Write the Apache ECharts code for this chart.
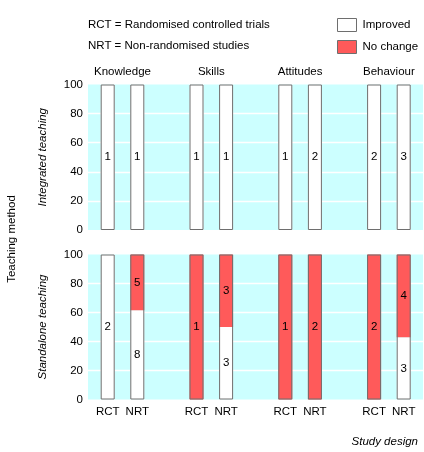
<!DOCTYPE html>
<html>
<head>
<meta charset="utf-8">
<script src="https://cdn.jsdelivr.net/npm/echarts@6/dist/echarts.min.js"></script>
<style>html,body{margin:0;padding:0;background:#fff}#c{width:424px;height:452px}</style>
</head>
<body>
<div id="c"></div>
<script>
var outcomes = ['Knowledge', 'Skills', 'Attitudes', 'Behaviour'];
var designs = ['RCT', 'NRT'];
var panels = ['Integrated teaching', 'Standalone teaching'];
// counts per bar, order: Knowledge RCT, Knowledge NRT, Skills RCT, Skills NRT, ...
var integratedImproved = [1, 1, 1, 1, 1, 2, 2, 3];
var integratedNoChange = [0, 0, 0, 0, 0, 0, 0, 0];
var standaloneImproved = [2, 8, 0, 3, 0, 0, 0, 3];
var standaloneNoChange = [0, 5, 1, 3, 1, 2, 2, 4];
var yTicks = [0, 20, 40, 60, 80, 100];

var FONT = 'Liberation Sans';
var RED = '#ff5a5a';
var CYAN = '#ccffff';

// category slots: RCT, NRT, (gap), RCT, NRT, (gap), ...
var slots = [];
outcomes.forEach(function (o, g) {
  designs.forEach(function (d) { slots.push(d); });
  if (g < outcomes.length - 1) slots.push('');
});
function slotOf(i) { return Math.floor(i / 2) * 3 + (i % 2); }
var groupX = outcomes.map(function (o, g) { return g * 3 + 0.5; });

function pctData(counts, other) {
  var arr = slots.map(function () { return 0; });
  counts.forEach(function (c, i) {
    var tot = c + other[i];
    arr[slotOf(i)] = { value: tot ? c / tot * 100 : 0, count: c };
  });
  return arr;
}
function outlineData(a, b) {
  var arr = slots.map(function () { return '-'; });
  a.forEach(function (c, i) { if (c + b[i] > 0) arr[slotOf(i)] = 100; });
  return arr;
}

var panelTops = [84.5, 254.5], panelHeights = [145.5, 145];
var grids = [], xAxes = [], yAxes = [], series = [];
var panelData = [
  [integratedImproved, integratedNoChange],
  [standaloneImproved, standaloneNoChange]
];

// background grids (cyan panels with white grid lines and y labels)
for (var p = 0; p < 2; p++) {
  grids.push({ show: true, backgroundColor: CYAN, borderWidth: 0, left: 88, right: 1, top: panelTops[p], height: panelHeights[p] });
  xAxes.push({ type: 'value', gridIndex: p, min: 0, max: 1, show: false });
  yAxes.push({
    type: 'value', gridIndex: p, min: 0, max: 100, interval: 20,
    name: panels[p], nameLocation: 'middle', nameGap: 39,
    nameTextStyle: { fontFamily: FONT, fontSize: 11.5, fontStyle: 'italic', color: '#000' },
    axisLine: { show: false }, axisTick: { show: false },
    axisLabel: { margin: 5, fontFamily: FONT, fontSize: 11.5, color: '#000' },
    splitLine: { show: true, showMinLine: false, showMaxLine: false, lineStyle: { color: '#fff', width: 1.3 } }
  });
}
// bar grids
for (var p = 0; p < 2; p++) {
  grids.push({ show: false, left: 92.9, right: 5.5, top: panelTops[p], height: panelHeights[p] });
  xAxes.push({
    type: 'category', gridIndex: 2 + p, data: slots, position: 'bottom',
    axisLine: { show: false }, axisTick: { show: false }, splitLine: { show: false },
    axisLabel: p === 1 ? { show: true, interval: 0, margin: 6, fontFamily: FONT, fontSize: 11.5, color: '#000' } : { show: false }
  });
  yAxes.push({ type: 'value', gridIndex: 2 + p, min: 0, max: 100, interval: 20, show: false, splitLine: { show: false } });
}
// group titles above the upper panel
xAxes.push({
  type: 'value', gridIndex: 2, min: -0.5, max: 10.5, position: 'top',
  axisLine: { show: false }, axisTick: { show: false }, splitLine: { show: false },
  axisLabel: {
    show: true, customValues: groupX, margin: 7,
    fontFamily: FONT, fontSize: 11.5, color: '#000',
    formatter: function (v) { return outcomes[Math.round((v - 0.5) / 3)]; }
  }
});

var lbl = {
  show: true, position: 'inside', color: '#000', fontFamily: FONT, fontSize: 11.5,
  formatter: function (pr) { return pr.data && pr.data.count ? String(pr.data.count) : ''; }
};

for (var p = 0; p < 2; p++) {
  var imp = panelData[p][0], nc = panelData[p][1];
  series.push({
    name: 'Improved', type: 'bar', xAxisIndex: 2 + p, yAxisIndex: 2 + p, stack: 's' + p,
    barWidth: 14, itemStyle: { color: '#fff' }, label: lbl,
    data: pctData(imp, nc), silent: true
  });
  series.push({
    name: 'No change', type: 'bar', xAxisIndex: 2 + p, yAxisIndex: 2 + p, stack: 's' + p,
    barWidth: 14, itemStyle: { color: RED }, label: lbl,
    data: pctData(nc, imp), silent: true
  });
  series.push({
    name: 'outline', type: 'bar', xAxisIndex: 2 + p, yAxisIndex: 2 + p, barGap: '-100%',
    barWidth: 14, z: 5,
    itemStyle: { color: 'rgba(0,0,0,0)', borderColor: '#6e6e6e', borderWidth: 1 },
    data: outlineData(imp, nc), silent: true
  });
}

var chart = echarts.init(document.getElementById('c'), null, { renderer: 'canvas' });
chart.setOption({
  animation: false,
  textStyle: { fontFamily: FONT },
  grid: grids,
  xAxis: xAxes,
  yAxis: yAxes,
  series: series,
  legend: {
    data: ['Improved', 'No change'], orient: 'vertical', left: 337, top: 18, padding: 0,
    itemWidth: 19, itemHeight: 13, itemGap: 8, icon: 'rect',
    itemStyle: { borderColor: '#6e6e6e', borderWidth: 1 },
    textStyle: { fontFamily: FONT, fontSize: 11.5, color: '#000', padding: [0, 0, 0, 1] },
    selectedMode: false
  },
  graphic: [
    { type: 'text', left: 88, top: 19, style: { text: 'RCT = Randomised controlled trials', font: '11.5px "Liberation Sans"', fill: '#000' } },
    { type: 'text', left: 88, top: 40, style: { text: 'NRT = Non-randomised studies', font: '11.5px "Liberation Sans"', fill: '#000' } },
    { type: 'text', x: 12, y: 239, rotation: Math.PI / 2, style: { text: 'Teaching method', font: '11.5px "Liberation Sans"', fill: '#000', align: 'center', verticalAlign: 'middle' } },
    { type: 'text', right: 6, top: 436, style: { text: 'Study design', font: 'italic 11.5px "Liberation Sans"', fill: '#000' } }
  ]
});
</script>
</body>
</html>
